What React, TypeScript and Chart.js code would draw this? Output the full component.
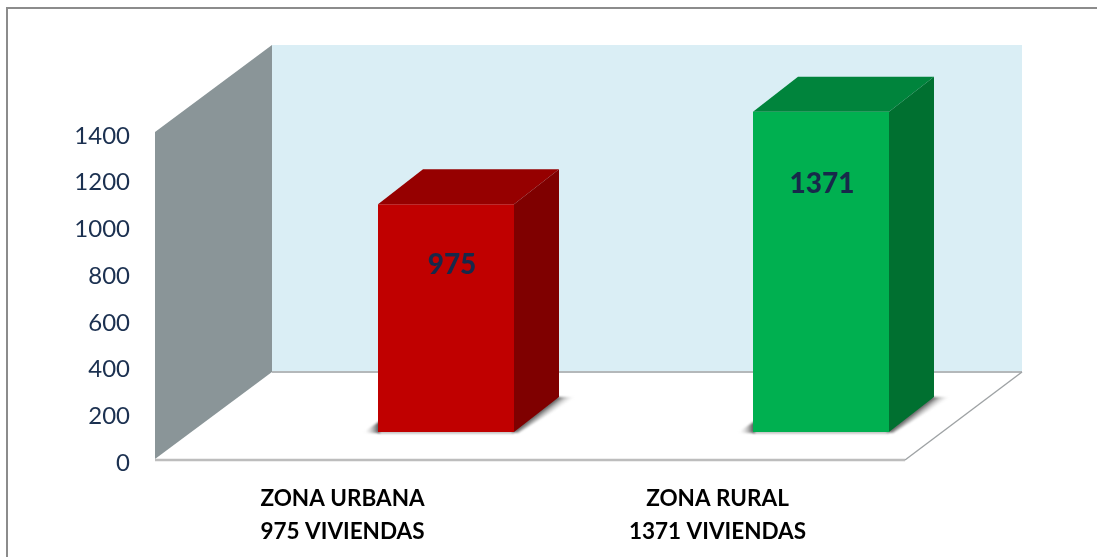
import React, { useEffect, useRef } from "react";
import { Chart, registerables } from "chart.js";

Chart.register(...registerables);

const categories = [["ZONA URBANA", "975 VIVIENDAS"], ["ZONA RURAL", "1371 VIVIENDAS"]];
const values = [975, 1371];
const frontColors = ["#C00000", "#00B050"];
const topColors = ["#960000", "#00843C"];
const sideColors = ["#7F0000", "#007030"];
const labelRise = [-61, -72];
const labelShift = [6, 1];

const DX = 117, DY = -87;        // wall depth
const BX = 103.5, BY = -27;      // bars stand part-way into the floor
const BDX = 45, BDY = -35;       // bar depth

const poly = (ctx: CanvasRenderingContext2D, pts: number[][], fill: any) => {
  ctx.beginPath();
  pts.forEach((p, i) => (i ? ctx.lineTo(p[0], p[1]) : ctx.moveTo(p[0], p[1])));
  ctx.closePath();
  ctx.fillStyle = fill;
  ctx.fill();
};

const scene = {
  id: "scene",
  beforeDatasetsDraw(chart: any) {
    const { ctx, chartArea: a } = chart;
    const { left: l, right: r, top: t, bottom: b } = a;
    ctx.save();
    // frame: the picture is cropped, only the top and left edges show
    ctx.fillStyle = "#8C8C8C";
    ctx.fillRect(6, 7, 1091, 2);
    ctx.fillRect(6, 7, 2, 550);
    // back wall
    poly(ctx, [[l + DX, t + DY], [r + DX, t + DY], [r + DX, b + DY], [l + DX, b + DY]], "#DAEEF5");
    // floor
    poly(ctx, [[l, b], [r, b], [r + DX, b + DY], [l + DX, b + DY]], "#FFFFFF");
    // left wall
    poly(ctx, [[l, t], [l + DX, t + DY], [l + DX, b + DY], [l, b]], "#8A9598");
    // floor edges
    ctx.strokeStyle = "#B4B8BA";
    ctx.lineWidth = 2;
    ctx.beginPath();
    ctx.moveTo(l + DX, b + DY);
    ctx.lineTo(r + DX, b + DY);
    ctx.stroke();
    ctx.strokeStyle = "#BDBDBD";
    ctx.lineWidth = 2.5;
    ctx.beginPath();
    ctx.moveTo(l, b + 1);
    ctx.lineTo(r, b + 1);
    ctx.stroke();
    ctx.strokeStyle = "#9EA2A4";
    ctx.lineWidth = 1.4;
    ctx.beginPath();
    ctx.moveTo(r, b + 1);
    ctx.lineTo(r + DX, b + DY);
    ctx.stroke();
    // bar shadows on the floor
    const meta = chart.getDatasetMeta(0);
    meta.data.forEach((bar: any) => {
      const hw = bar.width / 2;
      const x0 = bar.x - hw + BX, x1 = bar.x + hw + BX, y0 = bar.base + BY;
      ctx.save();
      ctx.filter = "blur(1px)";
      const g = ctx.createLinearGradient(x1, y0, x1 + 6.5, y0 + 8.4);
      g.addColorStop(0, "rgba(85,85,85,0.95)");
      g.addColorStop(1, "rgba(255,255,255,0)");
      poly(ctx, [[x1 - 3, y0], [x1 + BDX - 3, y0 + BDY], [x1 + BDX + 17, y0 + BDY], [x1 + 4, y0 + 1]], g);
      const g2 = ctx.createLinearGradient(x0, y0, x0 - 15, y0);
      g2.addColorStop(0, "rgba(85,85,85,0.95)");
      g2.addColorStop(1, "rgba(255,255,255,0)");
      poly(ctx, [[x0 + 2, y0 + 1], [x0 - 16, y0 + 1], [x0 + 2, y0 - 11]], g2);
      poly(ctx, [[x0, y0 - 1], [x1, y0 - 1], [x1, y0 + 1.5], [x0, y0 + 1.5]], "rgba(120,120,120,0.55)");
      ctx.restore();
    });
    ctx.restore();
    // bars are drawn by the library, moved into the depth of the floor
    ctx.save();
    ctx.translate(BX, BY);
  },
  afterDatasetsDraw(chart: any) {
    const { ctx } = chart;
    const meta = chart.getDatasetMeta(0);
    meta.data.forEach((bar: any, i: number) => {
      const hw = bar.width / 2;
      const x0 = bar.x - hw, x1 = bar.x + hw, yT = bar.y, yB = bar.base;
      poly(ctx, [[x0, yT], [x1, yT], [x1 + BDX, yT + BDY], [x0 + BDX, yT + BDY]], topColors[i]);
      poly(ctx, [[x1, yT], [x1 + BDX, yT + BDY], [x1 + BDX, yB + BDY], [x1, yB]], sideColors[i]);
      ctx.fillStyle = "#17294A";
      ctx.font = "900 28px Lato";
      ctx.textAlign = "center";
      ctx.textBaseline = "middle";
      ctx.fillText(String(values[i]), bar.x + labelShift[i], yT - labelRise[i]);
    });
    ctx.restore();
  },
};

export default function App() {
  const ref = useRef<HTMLCanvasElement>(null);
  useEffect(() => {
    const chart = new Chart(ref.current!, {
      type: "bar",
      data: {
        labels: categories as any,
        datasets: [
          {
            data: values,
            backgroundColor: frontColors,
            barPercentage: 1,
            categoryPercentage: 136 / 375,
            clip: false as any,
          },
        ],
      },
      plugins: [scene],
      options: {
        responsive: false,
        animation: false,
        layout: { padding: { top: 132, right: 192, left: 0, bottom: 0 } },
        plugins: { legend: { display: false }, tooltip: { enabled: false } },
        scales: {
          x: {
            grid: { display: false },
            border: { display: false },
            afterFit: (s: any) => { s.height = 98; },
            ticks: {
              color: "#000000",
              padding: 15,
              maxRotation: 0,
              font: { family: "Lato", size: 22.5, weight: "bold", lineHeight: 1.46 },
            },
          },
          y: {
            min: 0,
            max: 1400,
            grid: { display: false },
            border: { display: false },
            afterFit: (s: any) => { s.width = 155; },
            ticks: {
              stepSize: 200,
              color: "#1B3050",
              padding: 17,
              labelOffset: 4,
              callback: (v: any) => String(v),
              font: { family: "Lato", size: 24 },
            },
          },
        },
      },
    } as any);
    return () => chart.destroy();
  }, []);
  return (
    <canvas
      ref={ref}
      width={1097}
      height={557}
      style={{ position: "absolute", left: 0, top: 0, width: 1097, height: 557, filter: "blur(0.5px)" }}
    />
  );
}
